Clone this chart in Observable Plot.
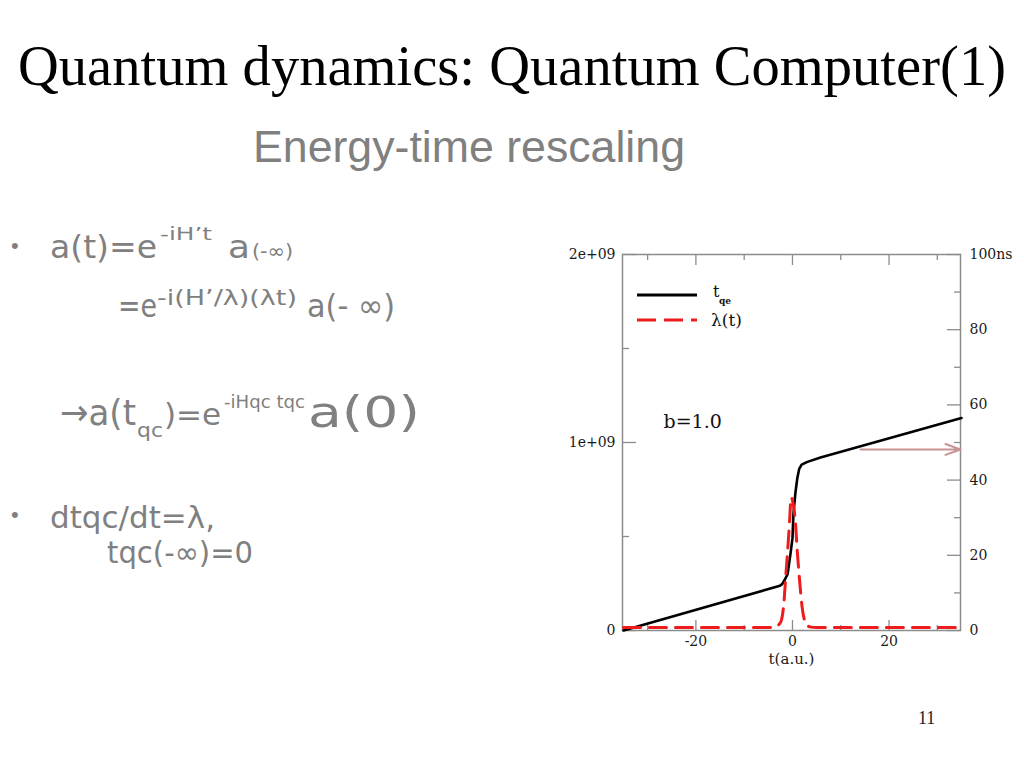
<!DOCTYPE html>
<html><head><meta charset="utf-8">
<script src="https://cdn.jsdelivr.net/npm/d3@7"></script>
<script src="https://cdn.jsdelivr.net/npm/@observablehq/plot@0.6"></script>
<style>
html,body{margin:0;padding:0;background:#fff;width:1024px;height:768px;overflow:hidden;}
#page{position:relative;width:1024px;height:768px;background:#fff;}
#plotwrap{position:absolute;left:540px;top:230px;}
#overlay{position:absolute;left:0;top:0;pointer-events:none;}
</style></head>
<body><div id="page"><div id="plotwrap"></div></div>
<script>
// ---- data ----
const tqcT   = [-35, -2.6, -2.1, -1.6, -1.0, -0.4, 0, 0.2, 0.6, 1.0, 1.4, 1.9, 3.1, 5.8, 35];
const tqcVal = [0, 0.238e9, 0.248e9, 0.27e9, 0.30e9, 0.41e9, 0.49e9, 0.62e9, 0.73e9, 0.81e9, 0.86e9, 0.882e9, 0.897e9, 0.92e9, 1.13e9];
const lamT   = [-35, -5, -3.5, -2.8, -2.3, -1.8, -1.3, -0.9, -0.6, -0.27, 0.1, 0.6, 1.0, 1.3, 1.7, 2.0, 2.5, 3.0, 3.8, 5, 35];
const lamVal = [0.8, 0.8, 1.0, 1.6, 2.7, 7, 16, 23, 29, 35.4, 34, 29, 21, 16, 10, 6.2, 2.7, 1.4, 0.9, 0.8, 0.8]; // in right-axis (ns) units
const xMajor = [-20, 0, 20];
const xMinor = [-30, -10, 10, 30];
const leftMajor = [0, 1e9, 2e9];
const leftLabels = ["0", "1e+09", "2e+09"];
const leftMinor = [5e8, 1.5e9];
const rightMajor = [0, 20, 40, 60, 80, 100];
const rightLabels = ["0", "20", "40", "60", "80", "100ns"];
const rightMinor = [10, 30, 50, 70, 90];
const arrowT = [14.1, 34.8];
const arrowLevel = 0.963e9;
const nsToY = 2e9 / 100;
const legendLabels = ["t", "λ(t)"];
const annotation = "b=1.0";
const xLabel = "t(a.u.)";

const tqcData = tqcT.map((t, i) => ({t, v: tqcVal[i]}));
const lamData = lamT.map((t, i) => ({t, v: lamVal[i]}));

const frameGray = "#8c8c8c";
const red = "#ee1c1c";

const plot = Plot.plot({
  width: 484, height: 440,
  marginLeft: 82, marginRight: 64, marginTop: 24, marginBottom: 40,
  x: {domain: [-35.2, 34.8]},
  y: {domain: [0, 2e9]},
  style: {fontFamily: "'DejaVu Serif', serif", fontSize: "14px", color: "#1a1a1a", background: "transparent", overflow: "visible"},
  marks: [
    Plot.frame({stroke: frameGray, strokeWidth: 1.5}),
    // inward tick marks
    Plot.axisX({ticks: xMajor, anchor: "bottom", tickSize: 10, dy: -10, tickFormat: () => "", stroke: frameGray, strokeWidth: 1.3, label: null}),
    Plot.axisX({ticks: xMinor, anchor: "bottom", tickSize: 5, dy: -5, tickFormat: () => "", stroke: frameGray, strokeWidth: 1.3, label: null}),
    Plot.axisX({ticks: xMajor, anchor: "top", tickSize: 10, dy: 10, tickFormat: () => "", stroke: frameGray, strokeWidth: 1.3, label: null}),
    Plot.axisX({ticks: xMinor, anchor: "top", tickSize: 5, dy: 5, tickFormat: () => "", stroke: frameGray, strokeWidth: 1.3, label: null}),
    Plot.axisY({ticks: leftMajor, anchor: "left", tickSize: 14, dx: 14, tickFormat: () => "", stroke: frameGray, strokeWidth: 1.3, label: null}),
    Plot.axisY({ticks: leftMinor, anchor: "left", tickSize: 7, dx: 7, tickFormat: () => "", stroke: frameGray, strokeWidth: 1.3, label: null}),
    Plot.axisY({ticks: rightMajor.map(v => v * nsToY), anchor: "right", tickSize: 14, dx: -14, tickFormat: () => "", stroke: frameGray, strokeWidth: 1.3, label: null}),
    Plot.axisY({ticks: rightMinor.map(v => v * nsToY), anchor: "right", tickSize: 7, dx: -7, tickFormat: () => "", stroke: frameGray, strokeWidth: 1.3, label: null}),
    // tick labels
    Plot.axisX({ticks: xMajor, anchor: "bottom", tickSize: 0, tickPadding: 6, tickFormat: d => String(d), label: null, fontSize: 14}),
    Plot.axisY({ticks: leftMajor, anchor: "left", tickSize: 0, tickPadding: 7, tickFormat: d => leftLabels[leftMajor.indexOf(d)], label: null, fontSize: 14}),
    Plot.axisY({ticks: rightMajor.map(v => v * nsToY), anchor: "right", tickSize: 0, tickPadding: 9, tickFormat: d => rightLabels[rightMajor.map(v => v * nsToY).indexOf(d)], label: null, fontSize: 14}),
    Plot.text([xLabel], {frameAnchor: "bottom", dy: 29, lineAnchor: "middle", fontSize: 15}),
    // data
    Plot.line(tqcData, {x: "t", y: "v", stroke: "#000", strokeWidth: 2.6, curve: "linear", strokeLinejoin: "round"}),
    Plot.line(lamData, {x: "t", y: d => d.v * nsToY, stroke: red, strokeWidth: 3, strokeDasharray: "17,9", curve: "monotone-x"}),
    Plot.arrow([{x1: arrowT[0], x2: arrowT[1], y: arrowLevel}], {x1: "x1", x2: "x2", y1: "y", y2: "y", stroke: "#c99393", strokeWidth: 2, headLength: 12, headAngle: 40}),
    Plot.text([annotation], {frameAnchor: "top-left", dx: 41, dy: 167, lineAnchor: "middle", textAnchor: "start", fontSize: 19, fill: "#111"})
  ]
});
document.getElementById("plotwrap").appendChild(plot);

// ---- slide text and legend overlay ----
const NS = "http://www.w3.org/2000/svg";
const ov = document.createElementNS(NS, "svg");
ov.setAttribute("id", "overlay");
ov.setAttribute("width", 1024);
ov.setAttribute("height", 768);
document.getElementById("page").appendChild(ov);

function txt(x, y, s, o = {}) {
  const t = document.createElementNS(NS, "text");
  t.setAttribute("x", x); t.setAttribute("y", y);
  t.setAttribute("font-family", o.family || "'DejaVu Sans', sans-serif");
  t.setAttribute("font-size", o.size || 16);
  t.setAttribute("fill", o.fill || "#808080");
  if (o.weight) t.setAttribute("font-weight", o.weight);
  if (o.len) { t.setAttribute("textLength", o.len); t.setAttribute("lengthAdjust", o.adjust || "spacingAndGlyphs"); }
  t.textContent = s;
  ov.appendChild(t);
  return t;
}
function line(x1, y1, x2, y2, o = {}) {
  const l = document.createElementNS(NS, "line");
  l.setAttribute("x1", x1); l.setAttribute("y1", y1); l.setAttribute("x2", x2); l.setAttribute("y2", y2);
  l.setAttribute("stroke", o.stroke || "#000");
  l.setAttribute("stroke-width", o.width || 1);
  if (o.dash) l.setAttribute("stroke-dasharray", o.dash);
  ov.appendChild(l);
}

// title + subtitle
txt(18, 85, "Quantum dynamics: Quantum Computer(1)", {family: "'Liberation Serif', serif", size: 56.5, fill: "#000", len: 988, adjust: "spacing"});
txt(253, 162, "Energy-time rescaling", {family: "'Liberation Sans', sans-serif", size: 44.7, fill: "#808080", len: 432, adjust: "spacing"});

// bullet 1
txt(11, 253, "•", {family: "'Liberation Sans', sans-serif", size: 22});
txt(50, 258, "a(t)=e", {size: 32, len: 107});
txt(160, 240, "-iH’t", {size: 17, len: 52});
txt(228, 258, "a", {size: 32, len: 22});
txt(252, 258, "(-∞)", {size: 20, len: 41});
txt(118, 317, "=e", {size: 32, len: 39});
txt(157, 305, "-i(H’/λ)(λt)", {size: 21, len: 140});
txt(307, 317, "a(- ∞)", {size: 32, len: 88});
// arrow line
txt(60, 425, "→a(t", {size: 36, len: 76});
txt(137, 437, "qc", {size: 20, len: 26});
txt(164, 425, ")=e", {size: 31});
txt(224, 408, "-iHqc tqc", {size: 17, len: 81});
txt(308, 427, "a(0)", {size: 42, len: 112});
// bullet 2
txt(11, 522, "•", {family: "'Liberation Sans', sans-serif", size: 22});
txt(50, 528, "dtqc/dt=λ,", {size: 30, len: 165});
txt(107, 563, "tqc(-∞)=0", {size: 30, len: 146});

// page number
txt(918, 724, "11", {family: "'Liberation Serif', serif", size: 18, fill: "#222"});

// legend inside chart
line(637, 295, 697, 295, {stroke: "#000", width: 3});
txt(713, 297, legendLabels[0], {family: "'DejaVu Serif', serif", size: 16, fill: "#111"});
txt(719, 304, "qe", {family: "'DejaVu Serif', serif", size: 9, fill: "#111", weight: "bold"});
line(637, 320, 697, 320, {stroke: red, width: 3, dash: "19,8"});
txt(711, 326, legendLabels[1], {family: "'DejaVu Serif', serif", size: 17, fill: "#111"});
</script>
</body></html>
